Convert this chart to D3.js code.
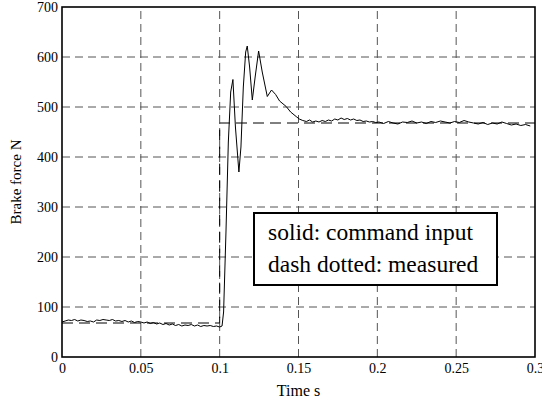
<!DOCTYPE html>
<html><head><meta charset="utf-8">
<script src="https://cdn.jsdelivr.net/npm/d3@7"></script>
<style>body{margin:0;background:#fff}svg{display:block}svg text{font-family:"Liberation Serif","DejaVu Serif",serif}</style>
</head><body>
<script>
const xTicks = [0, 0.05, 0.1, 0.15, 0.2, 0.25, 0.3];
const xTickLabels = ["0", "0.05", "0.1", "0.15", "0.2", "0.25", "0.3"];
const yTicks = [0, 100, 200, 300, 400, 500, 600, 700];
const yTickLabels = ["0", "100", "200", "300", "400", "500", "600", "700"];
const commandT = [0, 0.1, 0.1, 0.3];
const commandV = [68, 68, 468, 468];
const measuredT = [0,0.002,0.004,0.006,0.008,0.010,0.012,0.014,0.016,0.018,0.020,0.022,0.024,0.026,0.028,0.030,0.032,0.034,0.036,0.038,0.040,0.042,0.044,0.046,0.048,0.050,0.052,0.054,0.056,0.058,0.060,0.062,0.064,0.066,0.068,0.070,0.072,0.074,0.076,0.078,0.080,0.082,0.084,0.086,0.088,0.090,0.092,0.094,0.096,0.098,0.100,0.1015,0.1025,0.104,0.1055,0.107,0.1084,0.110,0.1122,0.1135,0.115,0.1165,0.1175,0.119,0.1207,0.1225,0.1247,0.127,0.1302,0.1329,0.1355,0.138,0.1422,0.145,0.1485,0.1505,0.1527,0.155,0.157,0.159,0.161,0.163,0.165,0.167,0.169,0.171,0.173,0.175,0.177,0.179,0.181,0.183,0.185,0.187,0.189,0.191,0.193,0.195,0.197,0.199,0.201,0.204,0.207,0.210,0.213,0.216,0.219,0.222,0.225,0.228,0.231,0.234,0.237,0.240,0.243,0.246,0.249,0.252,0.255,0.258,0.261,0.264,0.267,0.270,0.273,0.276,0.279,0.282,0.285,0.288,0.291,0.294,0.297,0.300];
const measuredV = [70,72,74,73,75,72,74,73,71,72,70,74,73,75,74,73,75,72,73,71,73,70,72,69,71,70,68,70,67,69,66,68,65,67,64,66,63,65,62,64,63,65,62,64,61,63,62,63,61,62,60,62,90,250,430,530,555,460,370,420,540,610,622,580,514,560,612,570,521,534,525,512,501,490,481,476,473,471,474,470,472,470,473,471,474,472,476,474,478,475,477,474,476,473,474,471,472,470,471,469,470,467,471,468,466,470,469,472,468,470,467,471,469,472,470,468,471,469,473,470,468,466,469,465,468,466,470,467,464,466,463,465,462];

const W = 542, H = 403;
const m = {left: 62, right: 7, top: 7, bottom: 46};
const svg = d3.select("body").append("svg").attr("width", W).attr("height", H);
const x = d3.scaleLinear().domain([0, 0.3]).range([m.left, W - m.right]);
const y = d3.scaleLinear().domain([0, 700]).range([H - m.bottom, m.top]);
const font = "Liberation Serif";

// grid
const grid = svg.append("g").attr("stroke", "#555").attr("stroke-width", 1).attr("stroke-dasharray", "8,5");
grid.selectAll(".gx").data(xTicks.slice(1, -1)).join("line")
  .attr("x1", d => x(d)).attr("x2", d => x(d)).attr("y1", y(0)).attr("y2", y(700));
grid.selectAll(".gy").data(yTicks.slice(1, -1)).join("line")
  .attr("y1", d => y(d)).attr("y2", d => y(d)).attr("x1", x(0)).attr("x2", x(0.3));

// lines
const line = d3.line().x(d => x(d[0])).y(d => y(d[1]));
svg.append("path").datum(commandT.map((t, i) => [t, commandV[i]]))
  .attr("d", line).attr("fill", "none").attr("stroke", "#000").attr("stroke-width", 1)
  .attr("stroke-dasharray", "11,6");
svg.append("path").datum(measuredT.map((t, i) => [t, measuredV[i]]))
  .attr("d", line).attr("fill", "none").attr("stroke", "#000").attr("stroke-width", 1);

// frame
svg.append("rect").attr("x", x(0)).attr("y", y(700)).attr("width", x(0.3) - x(0)).attr("height", y(0) - y(700))
  .attr("fill", "none").attr("stroke", "#000").attr("stroke-width", 1.6);

// axes labels
const xAxis = d3.axisBottom(x).tickValues(xTicks).tickFormat((d, i) => xTickLabels[i]).tickSize(0).tickPadding(6);
const gx = svg.append("g").attr("transform", `translate(0,${y(0)})`).call(xAxis);
gx.attr("font-family", null);
gx.select(".domain").remove();
gx.selectAll("text").style("font-family", font).attr("font-size", 14).attr("fill", "#000");
const yAxis = d3.axisLeft(y).tickValues(yTicks).tickFormat((d, i) => yTickLabels[i]).tickSize(0).tickPadding(4);
const gy = svg.append("g").attr("transform", `translate(${x(0)},0)`).call(yAxis);
gy.attr("font-family", null);
gy.select(".domain").remove();
gy.selectAll("text").style("font-family", font).attr("font-size", 14).attr("fill", "#000");

svg.append("text").attr("x", (x(0) + x(0.3)) / 2).attr("y", 396).attr("text-anchor", "middle")
  .style("font-family", font).attr("font-size", 16).text("Time s");
svg.append("text").attr("transform", `translate(21,${(y(0) + y(700)) / 2}) rotate(-90)`).attr("text-anchor", "middle")
  .style("font-family", font).attr("font-size", 15).text("Brake force N");

// legend box
const lg = svg.append("g");
lg.append("rect").attr("x", 254).attr("y", 213).attr("width", 243).attr("height", 72)
  .attr("fill", "#fff").attr("stroke", "#000").attr("stroke-width", 2);
lg.append("text").attr("x", 268).attr("y", 240).style("font-family", font).attr("font-size", 23.5).text("solid: command input");
lg.append("text").attr("x", 268).attr("y", 272).style("font-family", font).attr("font-size", 23.5).text("dash dotted: measured");
</script>
</body></html>
